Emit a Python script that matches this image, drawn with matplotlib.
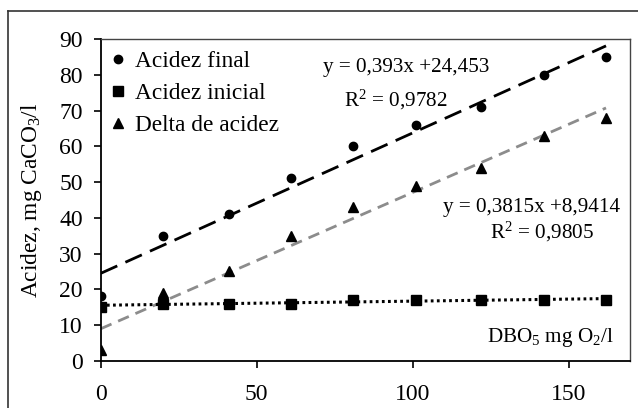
import matplotlib

matplotlib.use("Agg")
import matplotlib.pyplot as plt
import numpy as np
from matplotlib.lines import Line2D

plt.rcParams["font.family"] = "Liberation Serif"
plt.rcParams["mathtext.fontset"] = "custom"
plt.rcParams["mathtext.rm"] = "Liberation Serif"
plt.rcParams["mathtext.it"] = "Liberation Serif:italic"

# --- data -----------------------------------------------------------------------
dbo = [0, 20, 41, 61, 81, 101, 122, 142, 162]
acidez_final = [18, 35, 41, 51, 60, 66, 71, 80, 85]
acidez_inicial = [15, 16, 16, 16, 17, 17, 17, 17, 17]
delta_acidez = [3, 19, 25, 35, 43, 49, 54, 63, 68]

# trendline coefficients printed on the chart (slope, intercept)
fit_final = (0.393, 24.453)
fit_delta = (0.3815, 8.9414)

INK = "#000000"
GREY = "#8c8c8c"
FS_TICK = 17
FS_LEG = 16.8
FS_NOTE = 15.2
FS_LABEL = 16.8


def main():
    fig = plt.figure(figsize=(6.38, 4.08), dpi=100)
    ax = fig.add_axes([0.158, 0.116, 0.830, 0.788])

    # outer chart border (only left/top visible in the crop)
    fig.add_artist(Line2D([8 / 638, 8 / 638], [0, 1 - 10.5 / 408], color="#333333", lw=1.2))
    fig.add_artist(Line2D([8 / 638, 1], [1 - 10.5 / 408, 1 - 10.5 / 408], color="#333333", lw=1.2))

    x = np.array(dbo, dtype=float)
    xs = np.array([x.min(), x.max()])

    # trendlines
    ax.plot(xs, fit_final[0] * xs + fit_final[1], color=INK, lw=2.0,
            dashes=(6.5, 3.2), zorder=2)
    ax.plot(xs, fit_delta[0] * xs + fit_delta[1], color=GREY, lw=2.0,
            dashes=(4.2, 2.6), zorder=2)
    k, b = np.polyfit(x, acidez_inicial, 1)
    ax.plot(xs, k * xs + b, color=INK, lw=2.2, dashes=(0.9, 1.1), zorder=2)

    # points
    ax.plot(dbo, acidez_final, "o", color=INK, ms=6, zorder=3, label="Acidez final")
    ax.plot(dbo, acidez_inicial, "s", color=INK, ms=7, zorder=3, label="Acidez inicial")
    ax.plot(dbo, delta_acidez, "^", color=INK, ms=7.5, zorder=3, label="Delta de acidez")

    ax.set_xlim(0, 169.8)
    ax.set_ylim(0, 90)
    ax.set_xticks([0, 50, 100, 150])
    ax.set_yticks(range(0, 91, 10))
    ax.tick_params(axis="both", direction="out", length=5, width=1.2,
                   labelsize=FS_TICK, colors=INK)
    ax.tick_params(axis="y", pad=8)
    ax.tick_params(axis="x", pad=12)
    for side in ("left", "bottom"):
        ax.spines[side].set_linewidth(1.3)
        ax.spines[side].set_color(INK)
    for side in ("top", "right"):
        ax.spines[side].set_linewidth(1.0)
        ax.spines[side].set_color("#444444")

    ax.set_ylabel("Acidez, mg CaCO$_3$/l", fontsize=FS_LABEL, labelpad=11)

    ax.legend(loc="upper left", frameon=False, fontsize=FS_LEG, handlelength=0.5,
              handletextpad=0.45, labelspacing=0.45, borderaxespad=0.2,
              borderpad=0.3)

    ax.text(97.8, 82.2, "y = 0,393x +24,453", fontsize=FS_NOTE, ha="center", va="center")
    ax.text(94.7, 73, "R$^2$ = 0,9782", fontsize=FS_NOTE, ha="center", va="center")
    ax.text(138, 43, "y = 0,3815x +8,9414", fontsize=FS_NOTE, ha="center", va="center")
    ax.text(141.3, 36, "R$^2$ = 0,9805", fontsize=FS_NOTE, ha="center", va="center")
    ax.text(164.4, 6.6, "DBO$_5$ mg O$_2$/l", fontsize=FS_NOTE, ha="right", va="center")

    fig.savefig("out.png", dpi=100, facecolor="white")
    plt.close(fig)


if __name__ == "__main__":
    main()
